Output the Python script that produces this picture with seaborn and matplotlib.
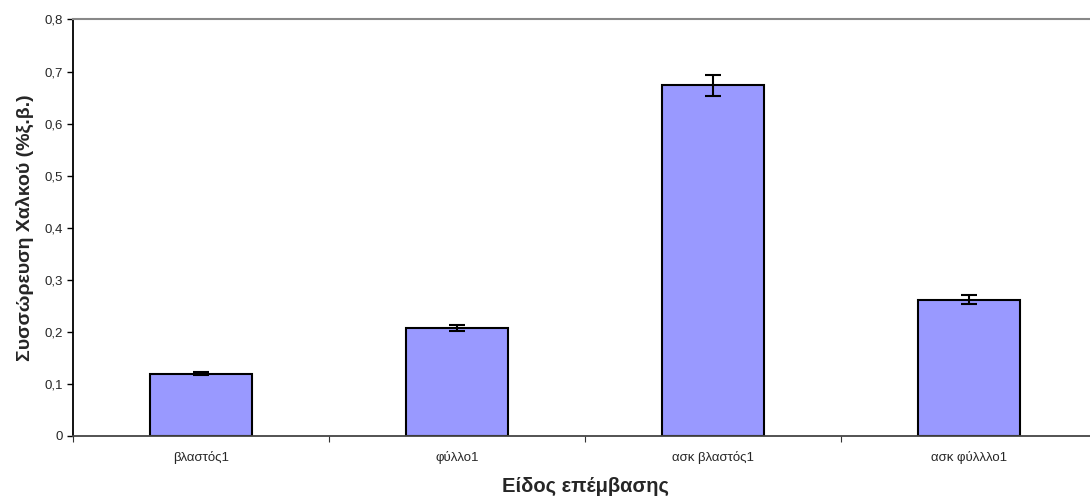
import matplotlib
matplotlib.use("Agg")
import matplotlib.pyplot as plt
import matplotlib.ticker as mticker
import seaborn as sns
import pandas as pd

categories = ["βλαστός1", "φύλλο1", "ασκ βλαστός1", "ασκ φύλλλο1"]
means = [0.120, 0.208, 0.674, 0.262]
errors = [0.003, 0.006, 0.020, 0.0085]
y_ticks = [0, 0.1, 0.2, 0.3, 0.4, 0.5, 0.6, 0.7, 0.8]

sns.set_theme(style="white")
plt.rcParams["font.family"] = ["Liberation Sans", "DejaVu Sans"]

df = pd.DataFrame({"category": categories, "value": means})

fig = plt.figure(figsize=(10.9, 4.96), dpi=100)
# plot area runs slightly past the right edge of the canvas
ax = fig.add_axes([0.067, 0.121, 0.9394, 0.8397])

sns.barplot(data=df, x="category", y="value", color="#9999FF", saturation=1,
            width=0.40, edgecolor="black", linewidth=1.5, errorbar=None, ax=ax)
ax.errorbar(range(len(categories)), means, yerr=errors, fmt="none",
            ecolor="black", elinewidth=1.5, capsize=5.5, capthick=1.5, zorder=5)

ax.set_xlim(-0.5, len(categories) - 0.5)
ax.set_ylim(0, 0.8)
ax.set_yticks(y_ticks)
ax.yaxis.set_major_formatter(mticker.FuncFormatter(
    lambda v, _: "0" if v == 0 else f"{v:.1f}".replace(".", ",")))

# category ticks sit between the bars
ax.set_xticks([i + 0.5 for i in range(-1, len(categories))], minor=False)
ax.set_xticklabels([])
ax.set_xticks(range(len(categories)), minor=True)
ax.set_xticklabels(categories, minor=True)
ax.tick_params(axis="x", which="major", direction="out", length=4, width=0.8,
               color="#333333", bottom=True)
ax.tick_params(axis="x", which="minor", length=0, labelsize=9.5, pad=11)
ax.tick_params(axis="y", direction="out", length=4, width=1.0, color="black",
               labelsize=9.5, pad=3, left=True)

ax.spines["top"].set_color("#888888")
ax.spines["top"].set_linewidth(1.5)
ax.spines["right"].set_visible(False)
ax.spines["left"].set_color("black")
ax.spines["left"].set_linewidth(1.3)
ax.spines["bottom"].set_color("#444444")
ax.spines["bottom"].set_linewidth(1.3)

ax.set_xlabel("Είδος επέμβασης", fontsize=14.5, fontweight="bold", labelpad=9)
ax.set_ylabel("Συσσώρευση Χαλκού (%ξ.β.)", fontsize=14, fontweight="bold", labelpad=8)

fig.savefig("out.png", dpi=100)
